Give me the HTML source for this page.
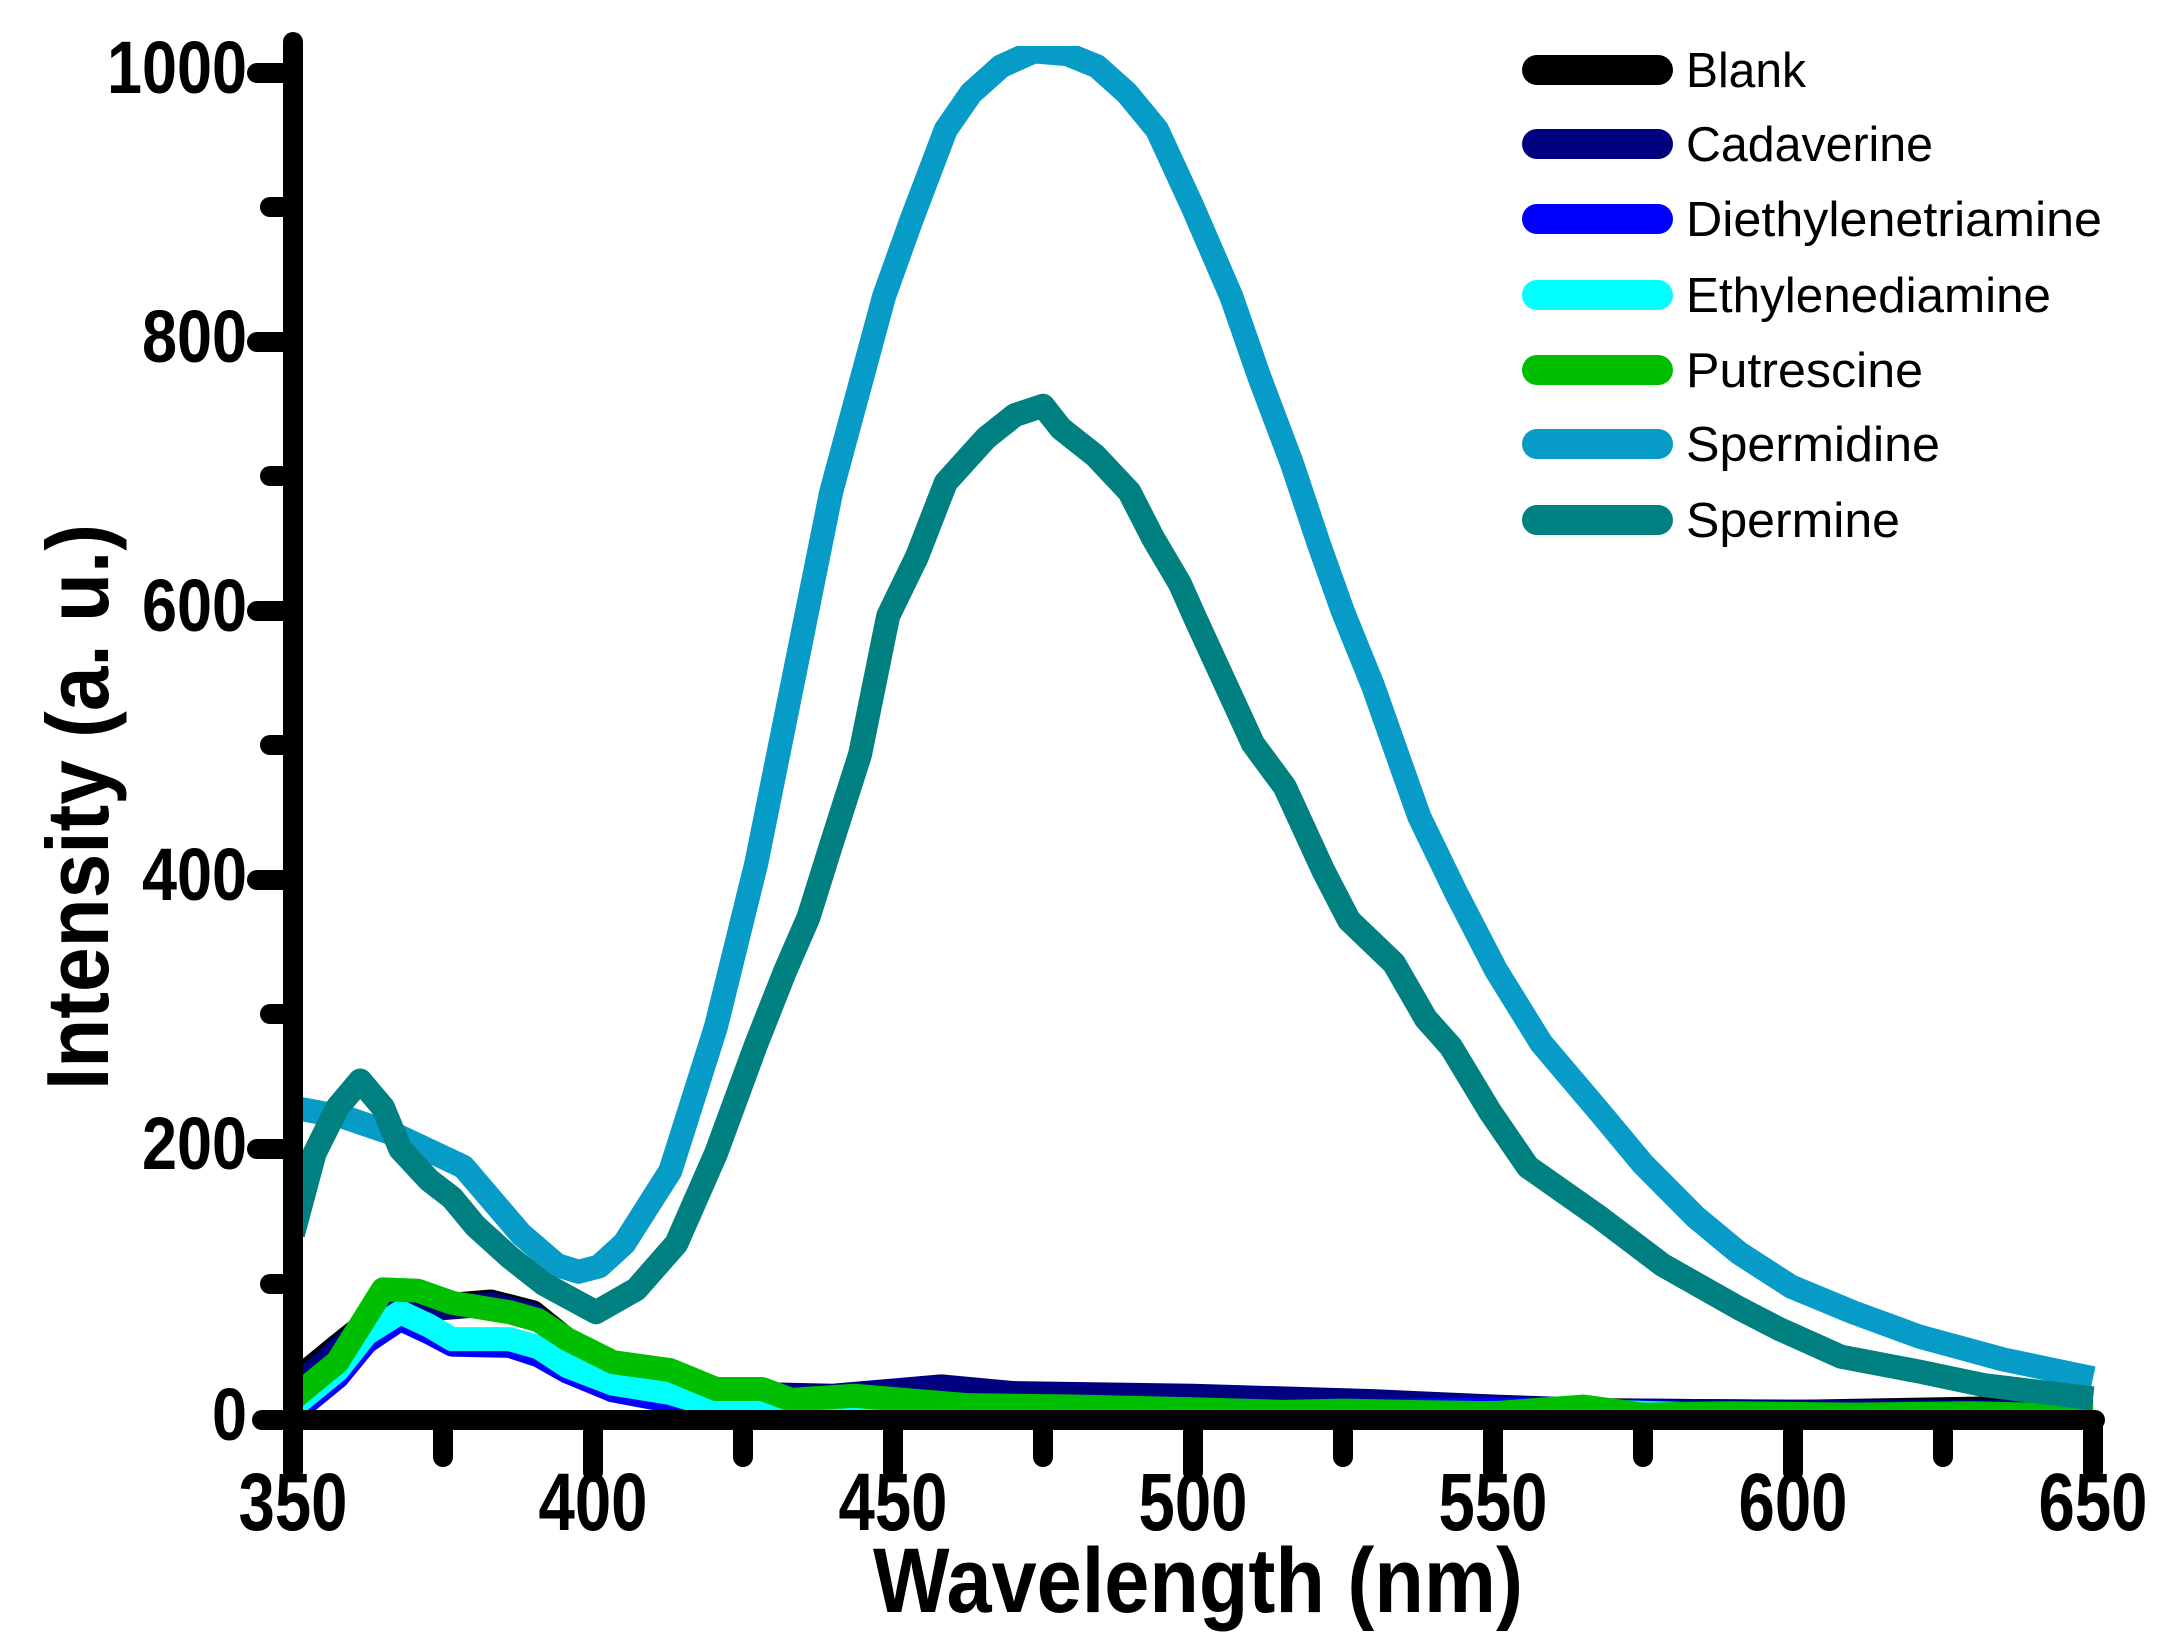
<!DOCTYPE html>
<html><head><meta charset="utf-8"><style>
html,body{margin:0;padding:0;background:#fff;}
svg{display:block;}
text{font-family:"Liberation Sans",Arial,sans-serif;font-weight:bold;fill:#000;}
.leg{font-weight:normal;}
.d{fill:none;stroke-width:24;stroke-linejoin:round;stroke-linecap:butt;vector-effect:non-scaling-stroke;}
</style></head><body>
<svg width="2179" height="1651" viewBox="0 0 2179 1651" xmlns="http://www.w3.org/2000/svg">
<defs><clipPath id="pc"><rect x="293" y="46" width="1810" height="1390"/></clipPath></defs>
<rect width="2179" height="1651" fill="#fff"/>
<g clip-path="url(#pc)">
<g transform="translate(293,1420) scale(6,-1.347)">
<polyline class="d" stroke="#000000" points="0,28 7.4,55 12.2,72 17.9,86 25,85 33,88 40,80 45,62 50,45 55,35 62,30 70,18 100,12 150,10 200,8 250,6 300,10"/>
<polyline class="d" stroke="#000080" points="0,22 7.4,52 12.2,70 17.9,84 25,83 33,86 40,78 45,60 50,42 55,33 62,28 70,20 90,18 108,25 120,20 150,18 180,14 200,10 220,7 260,6 300,6"/>
<polyline class="d" stroke="#0000ff" points="0,5 7.4,32 12.2,58 17.9,75 22.7,65 26.5,56 36.1,55 40.9,48 45.7,36 53.3,22 62.9,14 70.5,8 100,5 150,5 200,8 250,4 300,4"/>
<polyline class="d" stroke="#00ffff" points="0,10 7.4,37 12.2,64 17.9,80 22.7,70 26.5,60 36.1,60 40.9,54 45.7,40 53.3,27 62.9,20 70.5,10 93.5,4 150,3 220,6 250,2 300,3"/>
<polyline class="d" stroke="#00bf00" points="0,16 7.4,43 12.2,77 15,97 20.8,96 26.5,87 36.1,80 40.9,74 45.7,60 53.3,43 62.9,37 70.5,23 78.2,23 83,15 93.5,18 112.6,11 130,10 150,8 165,6 175,7 185,6 200,5 215,10 225,4 240,5 260,4 280,5 300,3"/>
<polyline class="d" stroke="#079bc8" points="0,232 8.4,225 17,212 28.4,188 38,138 44,115 47.6,110 51,114 55.2,131 62.9,185 70.5,292 77.2,413 83,541 89.7,689 98.5,834 103,890 108.8,958 113,985 118,1005 123.5,1016 129,1014 134,1005 139,985 144,958 150,900 156.4,834 161,775 166.5,710 171,650 175,600 180,545 187.7,448 194,390 200.5,334 208,280 217.7,229 225,190 233.7,151 241,124 249.7,99 260,80 271,62 285,45 300,31"/>
<polyline class="d" stroke="#008080" points="0,138 3.6,198 7.4,232 11.2,252 15,232 17.9,201 22.7,178 26.5,165 30.4,144 36.1,121 41.8,101 50.5,80 57.2,97 63.9,131 70.5,198 77.2,279 82,333 85.9,373 89.7,427 94.5,494 99.2,597 104,641 108.8,696 115.5,729 120.3,746 125,753 128,736 133.7,716 139.4,689 143.3,655 147.8,621 150.4,595 160,502 165.3,470 171.7,408 176,371 183.5,339 188.8,298 193,277 199.5,229 205.8,188 217.6,151 228.3,115 241,83 247.5,68 258,47 271,36 281.7,26 300,16"/>
</g>
</g>
<!-- axes -->
<g stroke="#000" stroke-width="20" stroke-linecap="round" fill="none">
<line x1="293" y1="42" x2="293" y2="1420"/>
<line x1="262" y1="1420" x2="2095" y2="1420"/>
<line x1="257" y1="73" x2="293" y2="73"/>
<line x1="257" y1="342" x2="293" y2="342"/>
<line x1="257" y1="611" x2="293" y2="611"/>
<line x1="257" y1="880" x2="293" y2="880"/>
<line x1="257" y1="1149" x2="293" y2="1149"/>
<line x1="270" y1="207" x2="293" y2="207"/>
<line x1="270" y1="476" x2="293" y2="476"/>
<line x1="270" y1="745" x2="293" y2="745"/>
<line x1="270" y1="1014" x2="293" y2="1014"/>
<line x1="270" y1="1284" x2="293" y2="1284"/>
<line x1="293" y1="1420" x2="293" y2="1472"/>
<line x1="593" y1="1420" x2="593" y2="1472"/>
<line x1="893" y1="1420" x2="893" y2="1472"/>
<line x1="1193" y1="1420" x2="1193" y2="1472"/>
<line x1="1493" y1="1420" x2="1493" y2="1472"/>
<line x1="1793" y1="1420" x2="1793" y2="1472"/>
<line x1="2093" y1="1420" x2="2093" y2="1472"/>
<line x1="443" y1="1420" x2="443" y2="1457"/>
<line x1="743" y1="1420" x2="743" y2="1457"/>
<line x1="1043" y1="1420" x2="1043" y2="1457"/>
<line x1="1343" y1="1420" x2="1343" y2="1457"/>
<line x1="1643" y1="1420" x2="1643" y2="1457"/>
<line x1="1943" y1="1420" x2="1943" y2="1457"/>
</g>
<!-- y labels -->
<g font-size="74" text-anchor="end">
<text x="247" y="93" textLength="140" lengthAdjust="spacingAndGlyphs">1000</text>
<text x="247" y="362" textLength="105" lengthAdjust="spacingAndGlyphs">800</text>
<text x="247" y="631" textLength="105" lengthAdjust="spacingAndGlyphs">600</text>
<text x="247" y="900" textLength="105" lengthAdjust="spacingAndGlyphs">400</text>
<text x="247" y="1169" textLength="105" lengthAdjust="spacingAndGlyphs">200</text>
<text x="247" y="1440" textLength="35" lengthAdjust="spacingAndGlyphs">0</text>
</g>
<!-- x labels -->
<g font-size="82" text-anchor="middle">
<text x="293" y="1530" textLength="109" lengthAdjust="spacingAndGlyphs">350</text>
<text x="593" y="1530" textLength="109" lengthAdjust="spacingAndGlyphs">400</text>
<text x="893" y="1530" textLength="109" lengthAdjust="spacingAndGlyphs">450</text>
<text x="1193" y="1530" textLength="109" lengthAdjust="spacingAndGlyphs">500</text>
<text x="1493" y="1530" textLength="109" lengthAdjust="spacingAndGlyphs">550</text>
<text x="1793" y="1530" textLength="109" lengthAdjust="spacingAndGlyphs">600</text>
<text x="2093" y="1530" textLength="109" lengthAdjust="spacingAndGlyphs">650</text>
</g>
<text x="1198" y="1612" font-size="92" text-anchor="middle" textLength="650" lengthAdjust="spacingAndGlyphs">Wavelength (nm)</text>
<text transform="translate(108,807) rotate(-90)" font-size="88" text-anchor="middle" textLength="566" lengthAdjust="spacingAndGlyphs">Intensity (a. u.)</text>
<!-- legend -->
<g stroke-width="30" stroke-linecap="round">
<line x1="1537" y1="70" x2="1658" y2="70" stroke="#000000"/>
<line x1="1537" y1="144" x2="1658" y2="144" stroke="#000080"/>
<line x1="1537" y1="219" x2="1658" y2="219" stroke="#0000ff"/>
<line x1="1537" y1="295" x2="1658" y2="295" stroke="#00ffff"/>
<line x1="1537" y1="370" x2="1658" y2="370" stroke="#00bf00"/>
<line x1="1537" y1="444" x2="1658" y2="444" stroke="#079bc8"/>
<line x1="1537" y1="520" x2="1658" y2="520" stroke="#008080"/>
</g>
<g font-size="49">
<text class="leg" x="1686" y="87" textLength="120" lengthAdjust="spacingAndGlyphs">Blank</text>
<text class="leg" x="1686" y="161" textLength="247" lengthAdjust="spacingAndGlyphs">Cadaverine</text>
<text class="leg" x="1686" y="236" textLength="416" lengthAdjust="spacingAndGlyphs">Diethylenetriamine</text>
<text class="leg" x="1686" y="312" textLength="365" lengthAdjust="spacingAndGlyphs">Ethylenediamine</text>
<text class="leg" x="1686" y="387" textLength="237" lengthAdjust="spacingAndGlyphs">Putrescine</text>
<text class="leg" x="1686" y="461" textLength="254" lengthAdjust="spacingAndGlyphs">Spermidine</text>
<text class="leg" x="1686" y="537" textLength="214" lengthAdjust="spacingAndGlyphs">Spermine</text>
</g>
</svg>
</body></html>
